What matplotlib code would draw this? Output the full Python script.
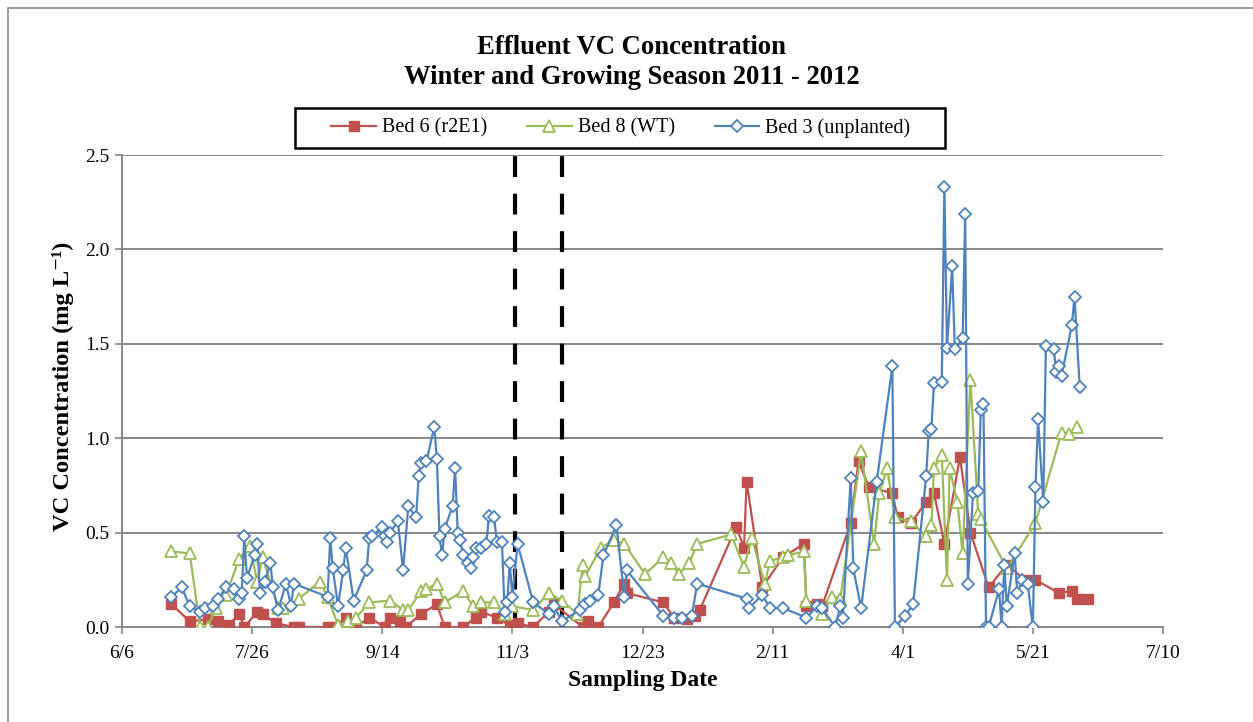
import datetime as dt
import matplotlib
matplotlib.use("Agg")
import matplotlib.pyplot as plt
import matplotlib.dates as mdates
from matplotlib.ticker import FixedLocator, FuncFormatter
from matplotlib.patches import Rectangle

plt.rcParams["font.family"] = ["Liberation Serif", "DejaVu Serif"]

START = dt.date(2011, 6, 6)

# Sampling days counted from 6/6/2011, and VC concentrations (mg/L)
bed6_days = [19, 26, 33, 37, 41, 45, 47, 52, 54, 59, 66, 68,
             79, 82, 86, 90, 95, 101, 103, 107, 109, 115, 121, 124, 131, 136, 138, 144,
             149, 152, 158, 164, 166, 177, 179, 183, 189, 193, 194, 208, 212, 217, 220, 222,
             236, 239, 240, 246, 254, 262, 263, 267, 269, 280, 283, 287, 296, 298, 303,
             309, 312, 316, 322, 326, 333, 340, 347, 351, 360, 365, 367, 371]
bed6_vc = [0.12, 0.03, 0.04, 0.03, 0.01, 0.07, 0.00, 0.08, 0.07, 0.02, 0.00, 0.00,
           0.00, 0.00, 0.05, 0.00, 0.05, 0.00, 0.05, 0.03, 0.00, 0.07, 0.12, 0.00, 0.00, 0.05, 0.08, 0.05,
           0.01, 0.02, 0.00, 0.08, 0.12, 0.00, 0.03, 0.00, 0.13, 0.23, 0.18, 0.13, 0.05, 0.04, 0.06, 0.09,
           0.53, 0.42, 0.77, 0.21, 0.37, 0.44, 0.11, 0.12, 0.11, 0.55, 0.88, 0.74, 0.71, 0.58, 0.55,
           0.66, 0.71, 0.44, 0.90, 0.50, 0.21, 0.33, 0.25, 0.25, 0.18, 0.19, 0.15, 0.15]

bed8_days = [19, 26, 30, 33, 36, 40, 45, 49, 52, 54, 60, 62, 68, 76,
             79, 83, 87, 90, 95, 103, 108, 110, 115, 117, 121, 124, 131, 135, 138, 143, 147,
             150, 158, 164, 169, 175, 177, 178, 184, 189, 193, 201, 208, 211, 214, 218, 221,
             234, 239, 242, 247, 249, 254, 256, 262, 263, 269, 273, 276,
             284, 289, 291, 294, 297, 303, 309, 311, 312, 315, 317, 318, 321, 323, 326, 329, 330,
             340, 351, 361, 364, 367]
bed8_vc = [0.40, 0.39, 0.00, 0.00, 0.10, 0.17, 0.36, 0.43, 0.24, 0.37, 0.10, 0.10, 0.15, 0.24,
           0.16, 0.01, 0.03, 0.05, 0.13, 0.14, 0.09, 0.09, 0.19, 0.20, 0.23, 0.13, 0.19, 0.11, 0.13, 0.13, 0.07,
           0.11, 0.09, 0.18, 0.14, 0.07, 0.33, 0.27, 0.42, 0.46, 0.44, 0.28, 0.37, 0.34, 0.28, 0.34, 0.44,
           0.49, 0.32, 0.47, 0.23, 0.35, 0.37, 0.38, 0.40, 0.14, 0.07, 0.16, 0.15,
           0.93, 0.44, 0.71, 0.84, 0.58, 0.56, 0.48, 0.54, 0.84, 0.91, 0.25, 0.84, 0.66, 0.39, 1.31, 0.60, 0.57,
           0.31, 0.55, 1.03, 1.02, 1.06]

bed3_days = [19, 23, 26, 30, 32, 35, 37, 40, 43, 45, 46, 47, 48, 51, 52, 53, 55, 57, 58, 60, 63, 65, 66,
             79, 80, 81, 83, 85, 86, 89, 94, 95, 96, 100, 101, 102, 103, 106, 108, 110, 113, 114, 115,
             117, 120, 121, 122, 123, 124, 127, 128, 129, 130, 131, 133, 134, 135, 136, 138, 140, 141,
             143, 144, 146, 147, 148, 149, 150, 152, 158, 164, 166, 169, 176, 178, 180, 183, 185, 190,
             193, 194, 208, 212, 215, 219, 221, 240, 241, 246, 249, 254, 263, 267, 269, 274, 276, 277,
             280, 281, 284, 290, 296, 297, 301, 304, 309, 310, 311, 312, 315, 316, 317, 319, 320, 323,
             324, 325, 327, 329, 330, 331, 332, 333, 337, 338, 339, 340, 343, 344, 346, 348, 350, 351,
             352, 354, 355, 358, 359, 360, 361, 365, 366, 368]
bed3_vc = [0.16, 0.21, 0.11, 0.08, 0.10, 0.11, 0.15, 0.21, 0.20, 0.15, 0.18, 0.48, 0.26, 0.38, 0.44, 0.18, 0.24, 0.34, 0.21, 0.09, 0.23, 0.11, 0.23,
           0.16, 0.47, 0.31, 0.11, 0.30, 0.42, 0.14, 0.30, 0.47, 0.48, 0.53, 0.48, 0.45, 0.50, 0.56, 0.30, 0.64, 0.58, 0.80, 0.87,
           0.88, 1.06, 0.89, 0.48, 0.38, 0.52, 0.64, 0.84, 0.50, 0.46, 0.38, 0.34, 0.31, 0.37, 0.42, 0.42, 0.44, 0.59,
           0.58, 0.45, 0.45, 0.08, 0.13, 0.34, 0.16, 0.44, 0.13, 0.07, 0.11, 0.03, 0.09, 0.12, 0.14, 0.17, 0.38, 0.54,
           0.16, 0.30, 0.06, 0.05, 0.05, 0.06, 0.23, 0.15, 0.10, 0.17, 0.10, 0.10, 0.05, 0.11, 0.10, 0.00, 0.11, 0.05,
           0.79, 0.31, 0.10, 0.77, 1.38, 0.00, 0.06, 0.12, 0.80, 1.04, 1.05, 1.29, 1.30, 2.33, 1.48, 1.91, 1.47, 1.53,
           2.19, 0.23, 0.71, 0.72, 1.15, 1.18, 0.00, 0.00, 0.20, 0.00, 0.33, 0.11, 0.39, 0.18, 0.25, 0.23, 0.00, 0.74,
           1.10, 0.66, 1.49, 1.47, 1.35, 1.38, 1.33, 1.60, 1.75, 1.27]

series_labels = ["Bed 6 (r2E1)", "Bed 8 (WT)", "Bed 3 (unplanted)"]
series_colors = ["#C0504D", "#9BBB59", "#4F81BD"]

# Vertical markers bracketing the winter period
winter_bounds = [dt.date(2011, 11, 4), dt.date(2011, 11, 22)]

x_ticks = [START + dt.timedelta(days=50 * k) for k in range(9)]
y_ticks = [0.0, 0.5, 1.0, 1.5, 2.0, 2.5]


def to_dates(days):
    return [START + dt.timedelta(days=d) for d in days]


W, H = 1253, 722
fig = plt.figure(figsize=(W / 100, H / 100), dpi=100)

# chart-area border
fig.patches.append(Rectangle((8 / W, -0.05), 1.2, 1.05 - 8 / H, transform=fig.transFigure,
                             fill=False, edgecolor="#8C8C8C", linewidth=1.2))

ax = fig.add_axes([122 / W, 1 - 627 / H, 1041 / W, 472 / H])

grid_col = "#868686"
for y in y_ticks[1:]:
    ax.axhline(y, color=grid_col, linewidth=1.4, zorder=1)

for d in winter_bounds:
    ax.axvline(d, color="black", linewidth=3.0, linestyle=(0, (5.0, 4.0)), zorder=2)

h6, = ax.plot(to_dates(bed6_days), bed6_vc, color=series_colors[0], linewidth=1.6,
              marker="s", markersize=7.5, markerfacecolor=series_colors[0],
              markeredgecolor=series_colors[0], zorder=3, label=series_labels[0])
h8, = ax.plot(to_dates(bed8_days), bed8_vc, color=series_colors[1], linewidth=1.6,
              marker="^", markersize=8.5, markerfacecolor="white", markeredgewidth=1.3,
              markeredgecolor=series_colors[1], zorder=4, label=series_labels[1])
h3, = ax.plot(to_dates(bed3_days), bed3_vc, color=series_colors[2], linewidth=1.6,
              marker="D", markersize=6.2, markerfacecolor="white", markeredgewidth=1.3,
              markeredgecolor=series_colors[2], zorder=5, label=series_labels[2])

ax.set_xlim(x_ticks[0], x_ticks[-1])
ax.set_ylim(0, 2.5)


def md_label(v, pos):
    d = mdates.num2date(v)
    return f"{d.month}/{d.day}"


ax.xaxis.set_major_locator(FixedLocator([mdates.date2num(d) for d in x_ticks]))
ax.xaxis.set_major_formatter(FuncFormatter(md_label))
ax.set_yticks(y_ticks)
ax.yaxis.set_major_formatter(FuncFormatter(lambda v, pos: f"{v:.1f}"))

for s in ["top", "right"]:
    ax.spines[s].set_visible(False)
for s in ["left", "bottom"]:
    ax.spines[s].set_color(grid_col)
    ax.spines[s].set_linewidth(1.4)
    ax.spines[s].set_zorder(1)

ax.tick_params(axis="both", colors=grid_col, labelcolor="black", labelsize=14,
               direction="out", length=5, width=1.2)
ax.tick_params(axis="x", pad=8)
ax.tick_params(axis="y", pad=4)

ax.set_xlabel("Sampling Date", fontsize=17, fontweight="bold", labelpad=6)
ax.set_ylabel("VC Concentration (mg L\u207b\u00b9)", fontsize=17.6, fontweight="bold")
ax.yaxis.set_label_coords(-0.046, 0.51)

fig.text(631.5 / W, 1 - 47 / H, "Effluent VC Concentration", ha="center", va="center",
         fontsize=19.2, fontweight="bold")
fig.text(631.5 / W, 1 - 77 / H, "Winter and Growing Season 2011 - 2012", ha="center", va="center",
         fontsize=19.2, fontweight="bold")

# legend box with wide side margins
fig.patches.append(Rectangle((295 / W, 1 - 148 / H), 650 / W, 40 / H, transform=fig.transFigure,
                             fill=True, facecolor="white", edgecolor="black", linewidth=1.8, zorder=5))
leg = fig.legend(handles=[h6, h8, h3], loc="center", bbox_to_anchor=(621 / W, 1 - 128 / H),
                 ncol=3, frameon=False, fontsize=14.5, handlelength=2.2,
                 columnspacing=2.0, handletextpad=0.3)
leg.set_zorder(6)

fig.savefig("out.png", dpi=100)
